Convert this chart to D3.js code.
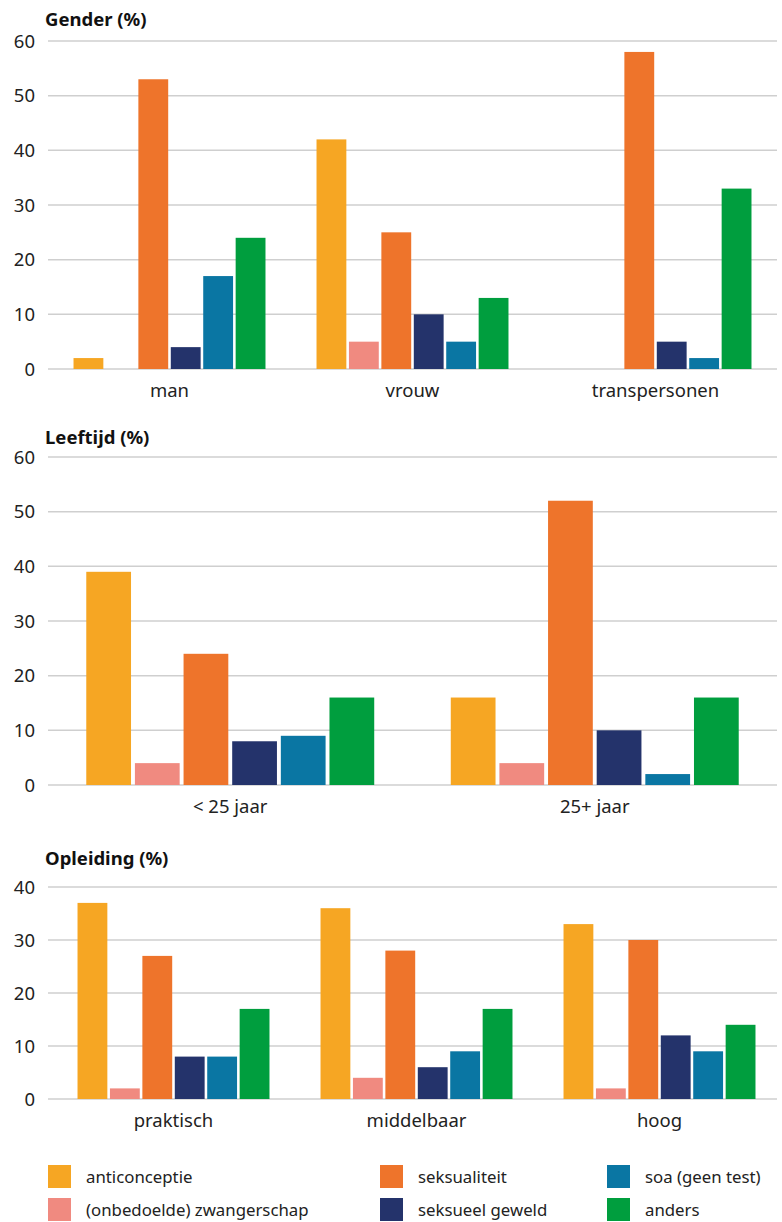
<!DOCTYPE html>
<html>
<head>
<meta charset="utf-8">
<script src="https://cdn.jsdelivr.net/npm/d3@7"></script>
<style>
  body { margin: 0; background: #fff; }
  svg { display: block; font-family: "Noto Sans", sans-serif; }
</style>
</head>
<body>
<div id="app"></div>
<script>
const series = ['anticonceptie', '(onbedoelde) zwangerschap', 'seksualiteit', 'seksueel geweld', 'soa (geen test)', 'anders']
const colors = ['#F6A623', '#F08A80', '#EE742B', '#24336B', '#0A76A3', '#009E3E']

const genderCats = ['man', 'vrouw', 'transpersonen']
const genderVals = [
  [2, 0, 53, 4, 17, 24],
  [42, 5, 25, 10, 5, 13],
  [0, 0, 58, 5, 2, 33]
]
const ageCats = ['< 25 jaar', '25+ jaar']
const ageVals = [
  [39, 4, 24, 8, 9, 16],
  [16, 4, 52, 10, 2, 16]
]
const eduCats = ['praktisch', 'middelbaar', 'hoog']
const eduVals = [
  [37, 2, 27, 8, 8, 17],
  [36, 4, 28, 6, 9, 17],
  [33, 2, 30, 12, 9, 14]
]
const ticks60 = [0, 10, 20, 30, 40, 50, 60]
const ticks40 = [0, 10, 20, 30, 40]

const W = 782, H = 1222
const svg = d3.select('#app').append('svg').attr('width', W).attr('height', H)
const color = d3.scaleOrdinal().domain(series).range(colors)

function panel(title, cats, vals, ticks, top, bottom, titleY, shift) {
	const g = svg.append('g')
	const x = d3.scaleBand().domain(cats).range([48 + shift, 777 + shift])
	const bw = x.bandwidth()
	const xi = d3.scaleBand().domain(series).range([bw * 0.105, bw * 0.895]).paddingInner(0.08)
	const y = d3.scaleLinear().domain([0, d3.max(ticks)]).range([bottom, top])

	g.append('text').attr('x', 45).attr('y', titleY)
		.attr('font-size', 18.5).attr('font-weight', 'bold').attr('fill', '#111').text(title)

	g.selectAll('line.grid').data(ticks).enter().append('line')
		.attr('x1', 48).attr('x2', 777)
		.attr('y1', d => y(d)).attr('y2', d => y(d))
		.attr('stroke', '#cfcfcf').attr('stroke-width', 1.5)
	g.selectAll('text.tick').data(ticks).enter().append('text')
		.attr('x', 35).attr('y', d => y(d)).attr('dy', '0.36em')
		.attr('text-anchor', 'end').attr('font-size', 18.5).attr('fill', '#222').text(d => d)

	const groups = g.selectAll('g.grp').data(cats).enter().append('g')
		.attr('transform', d => `translate(${x(d)},0)`)
	groups.selectAll('rect').data((d, i) => vals[i].map((v, j) => ({ s: series[j], v })))
		.enter().append('rect')
		.attr('x', d => xi(d.s)).attr('width', xi.bandwidth())
		.attr('y', d => y(d.v)).attr('height', d => y(0) - y(d.v))
		.attr('fill', d => color(d.s))
	groups.append('text').attr('x', bw / 2).attr('y', bottom + 28)
		.attr('text-anchor', 'middle').attr('font-size', 18.5).attr('fill', '#222').text(d => d)
}

panel('Gender (%)', genderCats, genderVals, ticks60, 41, 369, 26, 0)
panel('Leeftijd (%)', ageCats, ageVals, ticks60, 457, 785, 444, 0)
panel('Opleiding (%)', eduCats, eduVals, ticks40, 887, 1099, 865, 4)

// legend, column-major, 3 columns x 2 rows
const legX = [48, 380, 607]
const legY = [1165, 1198]
const leg = svg.selectAll('g.leg').data(series).enter().append('g')
	.attr('transform', (d, i) => `translate(${legX[Math.floor(i / 2)]},${legY[i % 2]})`)
leg.append('rect').attr('width', 23).attr('height', 23).attr('fill', d => color(d))
leg.append('text').attr('x', 38).attr('y', 12).attr('dy', '0.35em')
	.attr('font-size', 16.8).attr('fill', '#222').text(d => d)
</script>
</body>
</html>
